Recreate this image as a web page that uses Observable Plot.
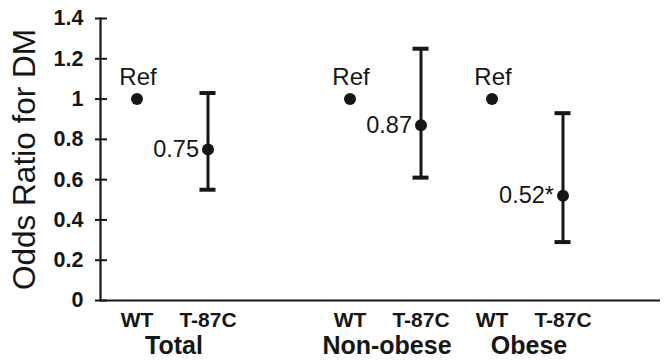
<!DOCTYPE html>
<html>
<head>
<meta charset="utf-8">
<script src="https://cdn.jsdelivr.net/npm/d3@7"></script>
<script src="https://cdn.jsdelivr.net/npm/@observablehq/plot@0.6"></script>
<style>
  html, body { margin: 0; padding: 0; background: #fff; }
  svg { font-family: "Liberation Sans", Arial, sans-serif; }
</style>
</head>
<body>
<div id="chart"></div>
<script>
// ---- data ----
const groups = ["Total", "Non-obese", "Obese"];
const genotypes = ["WT", "T-87C"];
const oddsRatio = [1, 0.75, 1, 0.87, 1, 0.52];
const ciLower = [null, 0.55, null, 0.61, null, 0.29];
const ciUpper = [null, 1.03, null, 1.25, null, 0.93];
const pointLabels = ["Ref", "0.75", "Ref", "0.87", "Ref", "0.52*"];
const yTicks = [0, 0.2, 0.4, 0.6, 0.8, 1, 1.2, 1.4];

// slots on the x axis (one empty slot between Total and Non-obese)
const slot = (g, t) => g + "|" + t;
const xDomain = [slot("Total","WT"), slot("Total","T-87C"), "gap",
                 slot("Non-obese","WT"), slot("Non-obese","T-87C"),
                 slot("Obese","WT"), slot("Obese","T-87C")];

const rows = [];
groups.forEach((g, gi) => genotypes.forEach((t, ti) => {
  const i = gi * 2 + ti;
  rows.push({group: g, geno: t, key: slot(g, t), or: oddsRatio[i],
             lo: ciLower[i], hi: ciUpper[i], label: pointLabels[i]});
}));
const ciRows = rows.filter(d => d.lo != null);
const refRows = rows.filter(d => d.label === "Ref");
const valRows = rows.filter(d => d.label !== "Ref");
const groupRows = groups.map(g => ({group: g, key: slot(g, "WT")}));

const ink = "#161616";

const chart = Plot.plot({
  width: 665,
  height: 360,
  marginLeft: 100,
  marginRight: 5,
  marginTop: 18,
  marginBottom: 60,
  style: {fontFamily: '"Liberation Sans", Arial, sans-serif', color: ink, background: "#fff"},
  x: {type: "band", domain: xDomain, range: [100.5, 597.5], padding: 0},
  y: {domain: [0, 1.4]},
  marks: [
    // axes lines
    Plot.frame({anchor: "left", stroke: ink, strokeWidth: 2.2}),
    Plot.ruleY([0], {stroke: ink, strokeWidth: 2.2}),
    // y axis: outward ticks + labels, inward ticks
    Plot.axisY({ticks: yTicks, tickSize: 5, tickPadding: 12, stroke: ink, strokeWidth: 2,
                tickFormat: d => d3.format("~g")(d), label: null}),
    Plot.axisY({ticks: yTicks, tickSize: -7, stroke: ink, strokeWidth: 2, text: null,
                label: "Odds Ratio for DM", labelAnchor: "center", labelArrow: "none",
                labelOffset: 88}),
    // x axis labels (genotype)
    Plot.axisX({tickSize: 0, tickPadding: 12, label: null,
                tickFormat: d => d === "gap" ? "" : d.split("|")[1]}),
    // group labels
    Plot.text(groupRows, {x: "key", y: () => 0, text: "group", dx: 37, dy: 45,
                          fontSize: 25, fontWeight: "bold", fill: ink, clip: false}),
    // confidence intervals
    Plot.ruleX(ciRows, {x: "key", y1: "lo", y2: "hi", stroke: ink, strokeWidth: 3}),
    Plot.tickY(ciRows, {x: "key", y: "lo", stroke: ink, strokeWidth: 4, inset: 27.5}),
    Plot.tickY(ciRows, {x: "key", y: "hi", stroke: ink, strokeWidth: 4, inset: 27.5}),
    // points
    Plot.dot(rows, {x: "key", y: "or", r: 6, fill: ink, stroke: null}),
    // labels
    Plot.text(refRows, {x: "key", y: "or", text: "label", dy: -22, dx: 1, fontSize: 24, fill: ink}),
    Plot.text(valRows, {x: "key", y: "or", text: "label", dx: -9, textAnchor: "end", fontSize: 23.5, fill: ink})
  ]
});
// axis text styling
const svg = d3.select(chart);
svg.selectAll('g[aria-label="y-axis tick label"]')
  .attr("font-size", 21.5).attr("font-weight", "bold").attr("fill", ink);
svg.selectAll('g[aria-label="x-axis tick label"]')
  .attr("font-size", 21).attr("font-weight", "bold").attr("fill", ink);
svg.selectAll('g[aria-label="y-axis label"]')
  .attr("font-size", 31.5).attr("font-weight", "normal").attr("fill", ink);
document.getElementById("chart").appendChild(chart);
</script>
</body>
</html>
